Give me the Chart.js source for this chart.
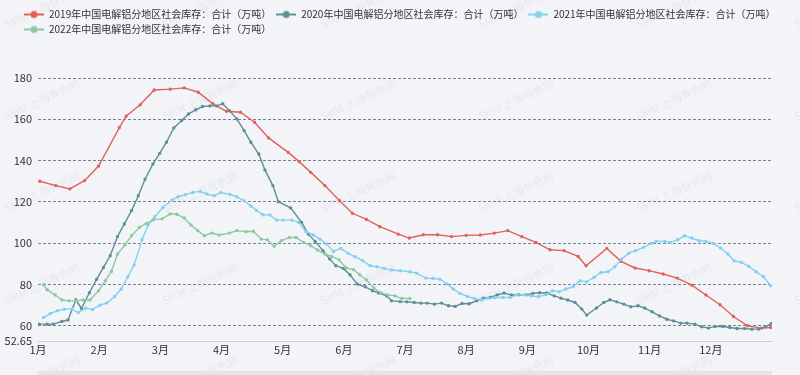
<!DOCTYPE html>
<html>
<head>
<meta charset="utf-8">
<script src="https://cdn.jsdelivr.net/npm/chart.js@4.4.1/dist/chart.umd.min.js"></script>
<style>
  html, body { margin: 0; padding: 0; background: #f3f4f7; }
</style>
</head>
<body>
<canvas id="stockChart" width="800" height="375"></canvas>
<script>
// Series names and axis labels
const seriesNames = [
  '2019年中国电解铝分地区社会库存：合计（万吨）',
  '2020年中国电解铝分地区社会库存：合计（万吨）',
  '2021年中国电解铝分地区社会库存：合计（万吨）',
  '2022年中国电解铝分地区社会库存：合计（万吨）'
];
const seriesColors = ['#e3605b', '#5e8f96', '#84d0f1', '#8ec9a2'];
const monthLabels = ['1月', '2月', '3月', '4月', '5月', '6月', '7月', '8月', '9月', '10月', '11月', '12月'];
const yTicks = [52.65, 60, 80, 100, 120, 140, 160, 180];

// Dates as months since 1 Jan, values in 万吨
const t2019 = [0.03, 0.29, 0.52, 0.76, 0.99, 1.33, 1.44, 1.67, 1.90, 2.16, 2.39, 2.62, 2.86, 3.08, 3.31, 3.54, 3.77, 4.09, 4.27, 4.46,
  4.69, 4.93, 5.14, 5.37, 5.59, 5.89, 6.07, 6.30, 6.53, 6.76, 7.00, 7.23, 7.46, 7.68, 7.91, 8.14, 8.37, 8.60, 8.83, 8.96,
  9.30, 9.53, 9.76, 9.99, 10.22, 10.45, 10.69, 10.92, 11.15, 11.37, 11.60, 11.83, 11.98];
const v2019 = [130.0, 127.9, 126.3, 130.3, 137.4, 156.0, 161.5, 167.0, 174.2, 174.6, 175.2, 173.1, 167.5, 163.9, 163.4, 158.6, 151.0, 144.0, 139.5, 134.3,
  127.9, 120.6, 114.5, 111.5, 108.0, 104.4, 102.5, 104.1, 104.1, 103.2, 103.8, 104.0, 104.9, 106.1, 103.2, 100.4, 96.8, 96.4, 93.6, 89.1,
  97.5, 91.2, 88.0, 86.7, 85.1, 83.1, 79.7, 74.9, 70.2, 64.5, 60.0, 58.9, 59.2];

const t2020 = [0.02, 0.15, 0.25, 0.39, 0.49, 0.62, 0.71, 0.84, 0.96, 1.07, 1.18, 1.30, 1.41, 1.53, 1.64, 1.75, 1.88, 1.99, 2.10, 2.22,
  2.35, 2.46, 2.58, 2.69, 2.81, 2.92, 3.02, 3.13, 3.25, 3.37, 3.48, 3.61, 3.71, 3.84, 3.93, 4.13, 4.31, 4.42, 4.53, 4.66,
  4.77, 4.87, 4.99, 5.10, 5.22, 5.35, 5.47, 5.57, 5.70, 5.78, 5.92, 6.03, 6.15, 6.26, 6.36, 6.48, 6.60, 6.71, 6.82, 6.93,
  7.05, 7.17, 7.28, 7.39, 7.51, 7.62, 7.74, 7.86, 7.98, 8.09, 8.20, 8.32, 8.44, 8.55, 8.66, 8.78, 8.89, 8.97, 9.13, 9.25,
  9.35, 9.46, 9.58, 9.69, 9.81, 9.92, 10.04, 10.16, 10.28, 10.39, 10.51, 10.61, 10.74, 10.85, 10.96, 11.07, 11.19, 11.31, 11.43, 11.55,
  11.67, 11.78, 11.89, 11.99];
const v2020 = [60.8, 60.8, 60.8, 62.1, 62.8, 72.6, 68.4, 76.0, 82.6, 88.3, 93.9, 103.2, 109.3, 115.8, 123.0, 131.0, 138.4, 143.5, 148.9, 155.8,
  159.4, 162.6, 164.6, 166.2, 166.5, 166.5, 167.5, 164.2, 160.2, 154.5, 148.9, 143.2, 135.5, 127.9, 120.1, 117.1, 110.1, 104.4, 100.9, 96.4,
  92.3, 89.1, 87.8, 84.7, 80.2, 78.9, 77.0, 75.9, 74.5, 72.1, 71.7, 71.6, 71.3, 71.0, 71.0, 70.5, 71.0, 69.7, 69.4, 70.8,
  70.7, 72.1, 73.4, 73.7, 75.0, 75.9, 74.9, 75.0, 75.0, 75.7, 76.0, 75.9, 74.5, 73.4, 72.5, 71.3, 68.1, 65.2, 68.6, 71.3,
  72.6, 71.6, 70.5, 69.2, 69.7, 68.6, 66.8, 64.8, 63.2, 62.4, 61.3, 61.3, 60.8, 59.5, 58.9, 59.7, 59.7, 59.2, 58.7, 58.7,
  58.4, 58.4, 59.5, 61.1];

const t2021 = [0.09, 0.20, 0.32, 0.43, 0.55, 0.66, 0.78, 0.89, 1.01, 1.12, 1.25, 1.36, 1.47, 1.57, 1.70, 1.80, 1.91, 2.04, 2.19, 2.29,
  2.41, 2.53, 2.65, 2.76, 2.88, 2.99, 3.14, 3.25, 3.37, 3.48, 3.57, 3.68, 3.79, 3.90, 4.01, 4.15, 4.26, 4.38, 4.50, 4.61,
  4.72, 4.83, 4.95, 5.07, 5.18, 5.31, 5.43, 5.54, 5.66, 5.78, 5.92, 6.08, 6.19, 6.34, 6.46, 6.57, 6.69, 6.79, 6.90, 7.02,
  7.13, 7.25, 7.36, 7.47, 7.60, 7.72, 7.83, 7.95, 8.07, 8.18, 8.30, 8.41, 8.52, 8.63, 8.75, 8.86, 8.97, 9.09, 9.20, 9.32,
  9.43, 9.54, 9.66, 9.77, 9.90, 10.02, 10.11, 10.25, 10.34, 10.46, 10.57, 10.69, 10.81, 10.92, 11.04, 11.16, 11.28, 11.38, 11.50, 11.62,
  11.74, 11.86, 11.98];
const v2021 = [64.0, 65.9, 67.3, 68.1, 68.1, 66.4, 68.6, 67.9, 70.0, 71.0, 74.1, 77.8, 83.8, 89.4, 101.6, 108.8, 112.8, 117.3, 120.9, 122.5,
  123.5, 124.6, 125.1, 123.8, 123.0, 124.6, 123.6, 122.5, 120.5, 118.0, 115.9, 113.7, 113.7, 111.2, 111.2, 111.2, 110.1, 105.6, 104.0, 102.0,
  99.6, 96.0, 97.5, 95.1, 93.5, 91.5, 89.1, 88.6, 87.8, 87.0, 86.7, 86.2, 85.5, 83.1, 82.9, 82.6, 80.2, 77.8, 75.7, 74.2,
  73.2, 72.5, 73.4, 73.7, 73.7, 73.7, 75.0, 75.0, 74.5, 74.1, 75.0, 77.0, 76.5, 77.8, 78.9, 81.8, 81.3, 83.4, 85.8, 86.2,
  88.6, 92.3, 95.2, 96.4, 98.0, 99.9, 100.9, 100.9, 100.4, 101.7, 103.6, 102.5, 101.2, 100.9, 99.9, 97.7, 94.8, 91.5, 90.7, 88.8,
  86.2, 83.8, 79.4];

const t2022 = [0.09, 0.15, 0.28, 0.39, 0.51, 0.62, 0.74, 0.85, 0.99, 1.10, 1.20, 1.30, 1.42, 1.53, 1.66, 1.77, 1.88, 2.03, 2.16, 2.27,
  2.39, 2.50, 2.61, 2.72, 2.84, 2.96, 3.13, 3.25, 3.40, 3.52, 3.65, 3.75, 3.86, 3.98, 4.11, 4.22, 4.34, 4.46, 4.57, 4.69,
  4.80, 4.92, 5.04, 5.16, 5.26, 5.37, 5.49, 5.61, 5.72, 5.84, 5.95, 6.08];
const v2022 = [79.9, 77.5, 74.9, 72.5, 72.1, 72.1, 72.5, 72.5, 77.0, 81.8, 86.3, 94.8, 99.1, 103.6, 107.7, 109.6, 111.3, 111.8, 114.2, 114.0,
  112.2, 108.8, 106.1, 103.6, 104.9, 104.0, 104.9, 106.1, 105.6, 105.8, 102.0, 101.6, 98.5, 101.2, 102.8, 102.8, 100.4, 98.8, 96.7, 94.8,
  93.6, 92.0, 88.0, 87.2, 84.7, 82.2, 78.3, 75.9, 75.0, 74.5, 73.2, 73.2];

const seriesTimes = [t2019, t2020, t2021, t2022];
const seriesValues = [v2019, v2020, v2021, v2022];

const fontFamily = "'Noto Sans CJK SC', 'Noto Sans', sans-serif";

// legend icon: short line with a dot, echarts style
function makeIcon(color) {
  const c = document.createElement('canvas');
  c.width = 20; c.height = 10;
  const g = c.getContext('2d');
  g.strokeStyle = color; g.lineWidth = 2;
  g.beginPath(); g.moveTo(0, 5); g.lineTo(20, 5); g.stroke();
  g.fillStyle = color;
  g.beginPath(); g.arc(10, 5, 3.5, 0, Math.PI * 2); g.fill();
  return c;
}
const legendIcons = seriesColors.map(makeIcon);

const backdrop = {
  id: 'backdrop',
  beforeDraw(chart) {
    const ctx = chart.ctx;
    ctx.save();
    ctx.fillStyle = '#f3f4f7';
    ctx.fillRect(0, 0, chart.width, chart.height);
    // watermark
    ctx.fillStyle = 'rgba(120,125,140,0.10)';
    ctx.font = '11px ' + fontFamily;
    ctx.textAlign = 'center';
    ctx.textBaseline = 'middle';
    for (let x = 42; x < 900; x += 158) {
      for (let y = 8; y < 420; y += 92) {
        ctx.save();
        ctx.translate(x, y);
        ctx.rotate(-25 * Math.PI / 180);
        ctx.fillText('SMM 上海有色网', 0, 0);
        ctx.restore();
      }
    }
    ctx.restore();
  },
  beforeLayout(chart) {
    const lg = chart.legend;
    if (lg && !lg._fixed) {
      const fit = lg.fit;
      lg.fit = function () { fit.call(this); this.height = 73.5; };
      lg._fixed = true;
    }
  },
  afterUpdate(chart) {
    chart.legend.left = 19;
    chart.legend.right = 850;
  },
  afterDraw(chart) {
    // zoom slider strip at the bottom
    const ctx = chart.ctx;
    const a = chart.chartArea;
    ctx.save();
    ctx.fillStyle = '#e3e5ea';
    ctx.fillRect(a.left, 371, a.right - a.left, 4);
    ctx.restore();
  }
};

new Chart(document.getElementById('stockChart'), {
  type: 'line',
  data: {
    datasets: seriesNames.map((name, i) => ({
      label: name,
      data: seriesTimes[i].map((t, j) => ({ x: t, y: seriesValues[i][j] })),
      borderColor: seriesColors[i],
      backgroundColor: seriesColors[i],
      borderWidth: 1.4,
      pointRadius: 1,
      pointHoverRadius: 0,
      tension: 0,
      order: 3 - i
    }))
  },
  options: {
    responsive: false,
    animation: false,
    layout: { padding: { top: 4.5, right: 28, bottom: 0, left: 0 } },
    plugins: {
      tooltip: { enabled: false },
      legend: {
        position: 'top',
        align: 'start',
        labels: {
          usePointStyle: true,
          pointStyleWidth: 20,
          padding: 5,
          color: '#333',
          font: { size: 10, family: fontFamily },
          sort: (a, b) => a.datasetIndex - b.datasetIndex,
          generateLabels: chart => Chart.defaults.plugins.legend.labels.generateLabels(chart)
            .map(l => Object.assign(l, { pointStyle: legendIcons[l.datasetIndex] }))
        }
      }
    },
    scales: {
      x: {
        type: 'linear',
        min: 0,
        max: 12,
        afterBuildTicks: s => { s.ticks = monthLabels.map((_, i) => ({ value: i })); },
        afterFit: s => { s.height = 34; },
        ticks: {
          callback: v => monthLabels[v],
          color: '#333',
          font: { size: 11, family: fontFamily },
          padding: 2,
          maxRotation: 0,
          autoSkip: false
        },
        grid: { display: false, drawTicks: false },
        border: { display: true, color: '#cdd0d8', width: 1 }
      },
      y: {
        min: 52.65,
        max: 180,
        afterBuildTicks: s => { s.ticks = yTicks.map(v => ({ value: v })); },
        afterFit: s => { s.width = 38; },
        ticks: {
          callback: v => String(v),
          color: '#333',
          font: { size: 11, family: fontFamily },
          padding: 6
        },
        grid: {
          drawTicks: false,
          color: c => (c.tick && c.tick.value === 52.65) ? 'rgba(0,0,0,0)' : '#7a7f98',
          lineWidth: 1
        },
        border: { display: false, dash: [3, 2] }
      }
    }
  },
  plugins: [backdrop]
});
</script>
</body>
</html>
